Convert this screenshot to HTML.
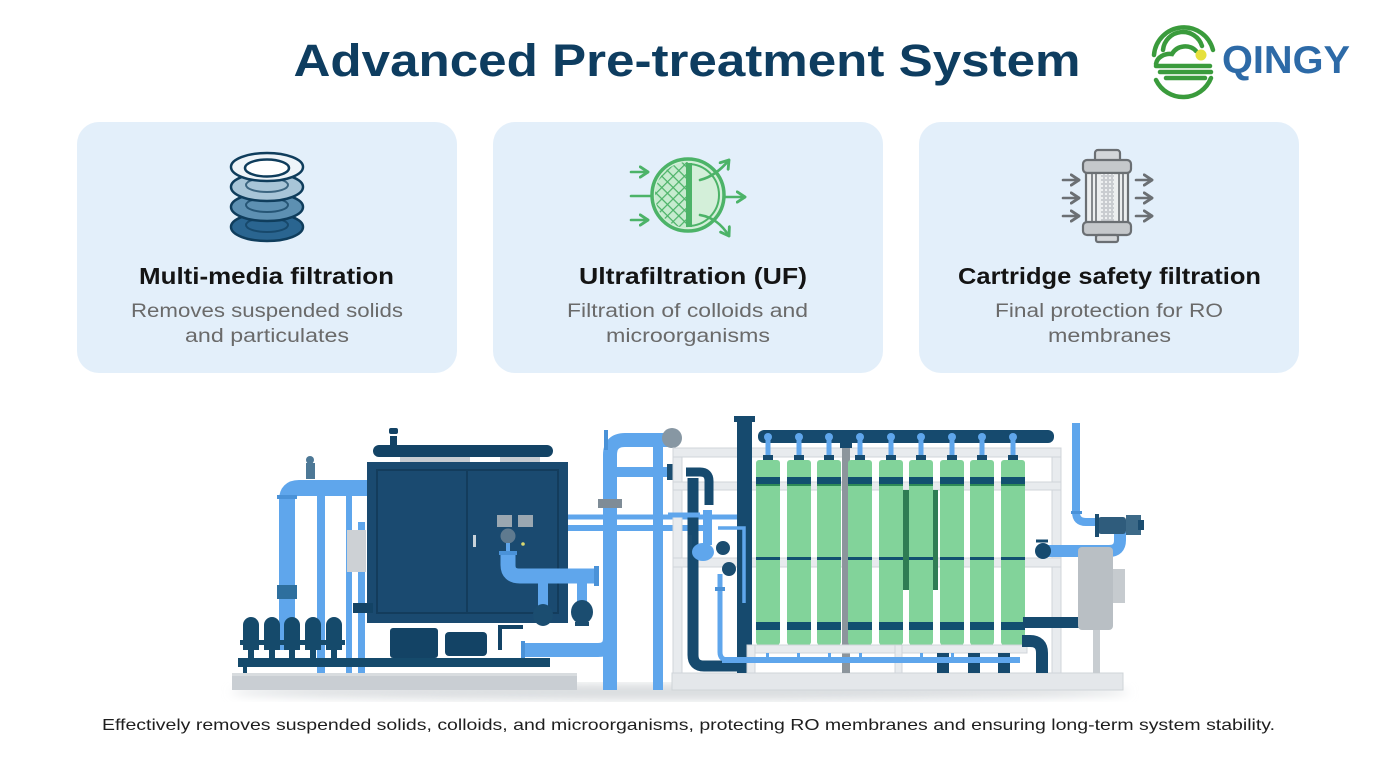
<!DOCTYPE html>
<html><head><meta charset="utf-8"><style>
html,body{margin:0;padding:0;background:#fff;}
svg{display:block;}
text{font-family:"Liberation Sans",sans-serif;}
</style></head><body>
<svg width="1376" height="768" viewBox="0 0 1376 768" xmlns="http://www.w3.org/2000/svg">
<defs>
<marker id="ag" viewBox="0 0 10 10" refX="7" refY="5" markerWidth="5" markerHeight="5" orient="auto"><path d="M1 1 L7 5 L1 9" fill="none" stroke="#4cb368" stroke-width="2.2" stroke-linecap="round" stroke-linejoin="round"/></marker>
<marker id="agr" viewBox="0 0 10 10" refX="7" refY="5" markerWidth="5" markerHeight="5" orient="auto"><path d="M1 1 L7 5 L1 9" fill="none" stroke="#6b6f73" stroke-width="2.2" stroke-linecap="round" stroke-linejoin="round"/></marker>
<pattern id="mesh" width="8" height="8" patternUnits="userSpaceOnUse" patternTransform="rotate(45)"><rect width="8" height="8" fill="#c6ebcf"/><path d="M0 0H8M0 0V8" stroke="#4cb368" stroke-width="2.4"/></pattern>
<pattern id="cmesh" width="4" height="4" patternUnits="userSpaceOnUse"><rect width="4" height="4" fill="#c9ccd0"/><circle cx="2" cy="2" r="1.1" fill="#f3f4f5"/></pattern>
<clipPath id="lh"><path d="M688 162 A33 33 0 0 0 688 228 Z"/></clipPath>
<filter id="blur"><feGaussianBlur stdDeviation="5"/></filter>
</defs>
<rect width="1376" height="768" fill="#fff"/>

<!-- Title -->
<text x="687" y="76" font-size="45" font-weight="700" fill="#0e3d60" text-anchor="middle" textLength="787" lengthAdjust="spacingAndGlyphs">Advanced Pre-treatment System</text>

<!-- Logo -->
<g fill="none" stroke="#3a9b3c" stroke-width="4.5" stroke-linecap="round">
<path d="M1154 55 A30 30 0 0 1 1213 50"/>
<path d="M1163 50 A20 20 0 0 1 1202 46"/>
<path d="M1156 64 C1157 57 1165 53 1172 54 C1177 45 1190 44 1196 51"/>
<path d="M1156 66 H1210"/>
<path d="M1160 72 H1211"/>
<path d="M1166 78 H1205"/>
<path d="M1156 80 A30 30 0 0 0 1211 78"/>
</g>
<circle cx="1201" cy="55" r="5.5" fill="#e6e03c"/>
<text x="1222" y="73" font-size="39" font-weight="700" fill="#2d6aa7" textLength="128" lengthAdjust="spacingAndGlyphs">QINGY</text>

<!-- Cards -->
<rect x="77" y="122" width="380" height="251" rx="22" fill="#e3effa"/>
<rect x="493" y="122" width="390" height="251" rx="22" fill="#e3effa"/>
<rect x="919" y="122" width="380" height="251" rx="22" fill="#e3effa"/>

<!-- Card 1 icon -->
<g stroke="#0f3d5c" stroke-width="2.5">
<ellipse cx="267" cy="227" rx="36" ry="14" fill="#2a6590"/>
<ellipse cx="267" cy="225" rx="21" ry="7" fill="none" stroke-width="2" opacity="0.7"/>
<ellipse cx="267" cy="207" rx="36" ry="14" fill="#5d90b2"/>
<ellipse cx="267" cy="205" rx="21" ry="7" fill="none" stroke-width="2" opacity="0.7"/>
<ellipse cx="267" cy="187" rx="36" ry="14" fill="#a8c5d8"/>
<ellipse cx="267" cy="185" rx="21" ry="7" fill="none" stroke-width="2" opacity="0.7"/>
<ellipse cx="267" cy="167" rx="36" ry="14" fill="#eef4f9"/>
<ellipse cx="267" cy="168" rx="22" ry="8.5" fill="#fff"/>
</g>

<!-- Card 2 icon -->
<circle cx="688" cy="195" r="36" fill="#d3efd9" stroke="#4cb368" stroke-width="3.5"/>
<circle cx="688" cy="195" r="31" fill="none" stroke="#4cb368" stroke-width="2"/>
<rect x="650" y="160" width="38" height="70" fill="url(#mesh)" clip-path="url(#lh)"/>
<rect x="686" y="163" width="6" height="64" fill="#4cb368"/>
<g fill="none" stroke="#4cb368" stroke-width="2.6" stroke-linecap="round">
<path d="M631 172 H648" marker-end="url(#ag)"/>
<path d="M631 196 H652"/>
<path d="M631 220 H648" marker-end="url(#ag)"/>
<path d="M700 180 Q716 176 729 160" marker-end="url(#ag)"/>
<path d="M724 197 H745" marker-end="url(#ag)"/>
<path d="M700 215 Q718 218 729 236" marker-end="url(#ag)"/>
</g>

<!-- Card 3 icon -->
<g stroke="#6b6f73" stroke-width="2.2">
<rect x="1095" y="150" width="25" height="12" rx="3" fill="#d3d6d9"/>
<rect x="1083" y="160" width="48" height="13" rx="4" fill="#c5c8cb"/>
<rect x="1086" y="173" width="42" height="50" fill="#eceeef"/>
<rect x="1101" y="174" width="13" height="48" fill="url(#cmesh)" stroke="none"/>
<path d="M1092 174 V222 M1096 174 V222 M1119 174 V222 M1123 174 V222" stroke-width="1.6"/>
<rect x="1083" y="222" width="48" height="13" rx="4" fill="#c5c8cb"/>
<rect x="1096" y="235" width="22" height="7" rx="2" fill="#d3d6d9"/>
</g>
<g fill="none" stroke="#6b6f73" stroke-width="2.6" stroke-linecap="round">
<path d="M1063 180 H1079" marker-end="url(#agr)"/>
<path d="M1063 198 H1079" marker-end="url(#agr)"/>
<path d="M1063 216 H1079" marker-end="url(#agr)"/>
<path d="M1136 180 H1152" marker-end="url(#agr)"/>
<path d="M1136 198 H1152" marker-end="url(#agr)"/>
<path d="M1136 216 H1152" marker-end="url(#agr)"/>
</g>

<!-- Card texts -->
<g font-size="23" font-weight="700" fill="#141414">
<text x="139" y="284" textLength="255" lengthAdjust="spacingAndGlyphs">Multi-media filtration</text>
<text x="579" y="284" textLength="228" lengthAdjust="spacingAndGlyphs">Ultrafiltration (UF)</text>
<text x="958" y="284" textLength="303" lengthAdjust="spacingAndGlyphs">Cartridge safety filtration</text>
</g>
<g font-size="19" fill="#6a6a6a">
<text x="131" y="317" textLength="272" lengthAdjust="spacingAndGlyphs">Removes suspended solids</text>
<text x="185" y="342" textLength="164" lengthAdjust="spacingAndGlyphs">and particulates</text>
<text x="567" y="317" textLength="241" lengthAdjust="spacingAndGlyphs">Filtration of colloids and</text>
<text x="606" y="342" textLength="164" lengthAdjust="spacingAndGlyphs">microorganisms</text>
<text x="995" y="317" textLength="228" lengthAdjust="spacingAndGlyphs">Final protection for RO</text>
<text x="1048" y="342" textLength="123" lengthAdjust="spacingAndGlyphs">membranes</text>
</g>

<!-- Machine shadow -->
<ellipse cx="680" cy="692" rx="450" ry="8" fill="#d8dbde" filter="url(#blur)"/>

<!-- ===== LEFT SECTION ===== -->
<rect x="232" y="673" width="345" height="17" fill="#c9ced3"/>
<rect x="232" y="673" width="345" height="3" fill="#d8dcdf"/>
<rect x="317" y="490" width="8" height="183" fill="#5fa6ec"/>
<rect x="346" y="490" width="6" height="183" fill="#5fa6ec"/>
<rect x="358" y="522" width="7" height="151" fill="#5fa6ec"/>
<path d="M287 650 V500 Q287 488 299 488 H368" fill="none" stroke="#5fa6ec" stroke-width="16"/>
<rect x="277" y="495" width="20" height="4" fill="#4a92d8"/>
<rect x="277" y="585" width="20" height="14" fill="#2e6f9e"/>
<rect x="306" y="463" width="9" height="16" fill="#4d7896"/>
<circle cx="310" cy="460" r="4" fill="#4d7896"/>
<rect x="347" y="530" width="19" height="42" fill="#cdd1d5"/>
<rect x="367" y="462" width="201" height="161" fill="#1a4a70"/>
<rect x="377" y="470" width="181" height="143" fill="none" stroke="#133c5c" stroke-width="2"/>
<line x1="467" y1="471" x2="467" y2="612" stroke="#133c5c" stroke-width="2"/>
<rect x="473" y="535" width="3" height="12" fill="#c9d3da"/>
<rect x="373" y="445" width="180" height="12" rx="6" fill="#134365"/>
<rect x="390" y="436" width="7" height="10" fill="#134365"/>
<rect x="389" y="428" width="9" height="6" rx="2" fill="#134365"/>
<rect x="400" y="457" width="70" height="5" fill="#c7ccd1"/>
<rect x="500" y="457" width="40" height="5" fill="#c7ccd1"/>
<rect x="497" y="515" width="15" height="12" fill="#9aa7b1"/>
<rect x="518" y="515" width="15" height="12" fill="#9aa7b1"/>
<circle cx="508" cy="536" r="7.5" fill="#5f7a8f"/>
<circle cx="523" cy="544" r="1.8" fill="#d9d870"/>
<rect x="506" y="543" width="4" height="8" fill="#5fa6ec"/>
<path d="M508 552 V565 Q508 576 520 576 H598" fill="none" stroke="#5fa6ec" stroke-width="15"/>
<rect x="499" y="551" width="18" height="4" fill="#4a92d8"/>
<rect x="594" y="566" width="5" height="20" fill="#4a92d8"/>
<rect x="538" y="583" width="10" height="40" fill="#5fa6ec"/>
<ellipse cx="543" cy="615" rx="10" ry="11" fill="#1b4d70"/>
<rect x="577" y="583" width="10" height="20" fill="#5fa6ec"/>
<ellipse cx="582" cy="612" rx="11" ry="12" fill="#1b4d70"/>
<rect x="575" y="622" width="14" height="4" fill="#1b4d70"/>
<rect x="390" y="628" width="48" height="30" rx="3" fill="#134365"/>
<rect x="445" y="632" width="42" height="24" rx="4" fill="#134365"/>
<rect x="353" y="603" width="20" height="10" fill="#134365"/>
<rect x="498" y="625" width="4" height="25" fill="#134365"/>
<rect x="498" y="625" width="25" height="4" fill="#134365"/>
<path d="M523 650 H598 Q610 650 610 638" fill="none" stroke="#5fa6ec" stroke-width="14"/>
<rect x="521" y="641" width="4" height="18" fill="#4a92d8"/>
<rect x="238" y="658" width="312" height="9" fill="#154a6b"/>
<rect x="243" y="667" width="4" height="6" fill="#154a6b"/>
<g fill="#154a6b">
<path d="M243 650 V625 A8 8 0 0 1 259 625 V650 Z"/><rect x="240" y="640" width="22" height="5"/><rect x="248" y="650" width="6" height="8"/>
<path d="M264 650 V625 A8 8 0 0 1 280 625 V650 Z"/><rect x="261" y="640" width="22" height="5"/><rect x="269" y="650" width="6" height="8"/>
<path d="M284 650 V625 A8 8 0 0 1 300 625 V650 Z"/><rect x="281" y="640" width="22" height="5"/><rect x="289" y="650" width="6" height="8"/>
<path d="M305 650 V625 A8 8 0 0 1 321 625 V650 Z"/><rect x="302" y="640" width="22" height="5"/><rect x="310" y="650" width="6" height="8"/>
<path d="M326 650 V625 A8 8 0 0 1 342 625 V650 Z"/><rect x="323" y="640" width="22" height="5"/><rect x="331" y="650" width="6" height="8"/>
</g>
<rect x="653" y="447" width="10" height="243" fill="#5fa6ec"/>
<path d="M610 690 V455 Q610 440 625 440 H668" fill="none" stroke="#5fa6ec" stroke-width="14"/>
<rect x="598" y="499" width="24" height="9" fill="#7f8c97"/>
<rect x="604" y="430" width="4" height="20" fill="#4a92d8"/>
<circle cx="672" cy="438" r="10" fill="#8797a3"/>
<path d="M610 472 H670" stroke="#5fa6ec" stroke-width="10"/>
<rect x="667" y="464" width="6" height="16" fill="#1b4d70"/>
<path d="M568 517 H742" stroke="#5fa6ec" stroke-width="5"/>
<path d="M568 528 H705" stroke="#5fa6ec" stroke-width="6"/>

<!-- ===== RIGHT SECTION ===== -->
<rect x="672" y="673" width="451" height="17" fill="#e4e7ea" stroke="#cfd4d8"/>
<g fill="#e8ebee" stroke="#d0d5da">
<rect x="673" y="448" width="9" height="225"/>
<rect x="1052" y="448" width="9" height="225"/>
<rect x="673" y="448" width="388" height="9"/>
<rect x="673" y="482" width="388" height="8"/>
<rect x="673" y="558" width="388" height="9"/>
</g>
<rect x="842" y="448" width="8" height="225" fill="#8c959c"/>
<rect x="900" y="490" width="38" height="100" fill="#2f7d54"/>
<rect x="737" y="419" width="15" height="254" fill="#164a6e"/>
<rect x="734" y="416" width="21" height="6" fill="#164a6e"/>
<path d="M693 478 V655 Q693 666 704 666 H740" fill="none" stroke="#164a6e" stroke-width="11"/>
<path d="M686 472 H700 Q709 472 709 481 V505" fill="none" stroke="#164a6e" stroke-width="9"/>
<path d="M668 515 H700" stroke="#5fa6ec" stroke-width="5"/>
<rect x="703" y="510" width="9" height="35" fill="#5fa6ec"/>
<ellipse cx="703" cy="552" rx="11" ry="9" fill="#5fa6ec"/>
<circle cx="723" cy="548" r="7" fill="#1b4d70"/>
<circle cx="729" cy="569" r="7" fill="#1b4d70"/>
<rect x="688" y="535" width="4" height="15" fill="#1b4d70"/>
<path d="M720 574 V652 Q720 660 728 660 H745" fill="none" stroke="#5fa6ec" stroke-width="5"/>
<rect x="715" y="587" width="10" height="4" fill="#4a92d8"/>
<path d="M718 528 H744 V603" fill="none" stroke="#5fa6ec" stroke-width="3.5"/>
<rect x="758" y="430" width="296" height="13" rx="6" fill="#164a6e"/>
<rect x="840" y="443" width="12" height="5" fill="#164a6e"/>
<g>
<g transform="translate(768 0)"><rect x="-2.5" y="436" width="5" height="20" fill="#5fa6ec"/><circle cx="0" cy="437" r="4" fill="#5fa6ec"/><rect x="-5" y="455" width="10" height="6" fill="#164a6e"/><rect x="-12" y="460" width="24" height="185" rx="3" fill="#82d39a"/><rect x="-12" y="477" width="24" height="7" fill="#125070"/><rect x="-12" y="484" width="24" height="2" fill="#2e8b57"/><rect x="-12" y="557" width="24" height="3" fill="#125070"/><rect x="-12" y="622" width="24" height="8" fill="#125070"/></g>
<g transform="translate(799 0)"><rect x="-2.5" y="436" width="5" height="20" fill="#5fa6ec"/><circle cx="0" cy="437" r="4" fill="#5fa6ec"/><rect x="-5" y="455" width="10" height="6" fill="#164a6e"/><rect x="-12" y="460" width="24" height="185" rx="3" fill="#82d39a"/><rect x="-12" y="477" width="24" height="7" fill="#125070"/><rect x="-12" y="484" width="24" height="2" fill="#2e8b57"/><rect x="-12" y="557" width="24" height="3" fill="#125070"/><rect x="-12" y="622" width="24" height="8" fill="#125070"/></g>
<g transform="translate(829 0)"><rect x="-2.5" y="436" width="5" height="20" fill="#5fa6ec"/><circle cx="0" cy="437" r="4" fill="#5fa6ec"/><rect x="-5" y="455" width="10" height="6" fill="#164a6e"/><rect x="-12" y="460" width="24" height="185" rx="3" fill="#82d39a"/><rect x="-12" y="477" width="24" height="7" fill="#125070"/><rect x="-12" y="484" width="24" height="2" fill="#2e8b57"/><rect x="-12" y="557" width="24" height="3" fill="#125070"/><rect x="-12" y="622" width="24" height="8" fill="#125070"/></g>
<g transform="translate(860 0)"><rect x="-2.5" y="436" width="5" height="20" fill="#5fa6ec"/><circle cx="0" cy="437" r="4" fill="#5fa6ec"/><rect x="-5" y="455" width="10" height="6" fill="#164a6e"/><rect x="-12" y="460" width="24" height="185" rx="3" fill="#82d39a"/><rect x="-12" y="477" width="24" height="7" fill="#125070"/><rect x="-12" y="484" width="24" height="2" fill="#2e8b57"/><rect x="-12" y="557" width="24" height="3" fill="#125070"/><rect x="-12" y="622" width="24" height="8" fill="#125070"/></g>
<g transform="translate(891 0)"><rect x="-2.5" y="436" width="5" height="20" fill="#5fa6ec"/><circle cx="0" cy="437" r="4" fill="#5fa6ec"/><rect x="-5" y="455" width="10" height="6" fill="#164a6e"/><rect x="-12" y="460" width="24" height="185" rx="3" fill="#82d39a"/><rect x="-12" y="477" width="24" height="7" fill="#125070"/><rect x="-12" y="484" width="24" height="2" fill="#2e8b57"/><rect x="-12" y="557" width="24" height="3" fill="#125070"/><rect x="-12" y="622" width="24" height="8" fill="#125070"/></g>
<g transform="translate(921 0)"><rect x="-2.5" y="436" width="5" height="20" fill="#5fa6ec"/><circle cx="0" cy="437" r="4" fill="#5fa6ec"/><rect x="-5" y="455" width="10" height="6" fill="#164a6e"/><rect x="-12" y="460" width="24" height="185" rx="3" fill="#82d39a"/><rect x="-12" y="477" width="24" height="7" fill="#125070"/><rect x="-12" y="484" width="24" height="2" fill="#2e8b57"/><rect x="-12" y="557" width="24" height="3" fill="#125070"/><rect x="-12" y="622" width="24" height="8" fill="#125070"/></g>
<g transform="translate(952 0)"><rect x="-2.5" y="436" width="5" height="20" fill="#5fa6ec"/><circle cx="0" cy="437" r="4" fill="#5fa6ec"/><rect x="-5" y="455" width="10" height="6" fill="#164a6e"/><rect x="-12" y="460" width="24" height="185" rx="3" fill="#82d39a"/><rect x="-12" y="477" width="24" height="7" fill="#125070"/><rect x="-12" y="484" width="24" height="2" fill="#2e8b57"/><rect x="-12" y="557" width="24" height="3" fill="#125070"/><rect x="-12" y="622" width="24" height="8" fill="#125070"/></g>
<g transform="translate(982 0)"><rect x="-2.5" y="436" width="5" height="20" fill="#5fa6ec"/><circle cx="0" cy="437" r="4" fill="#5fa6ec"/><rect x="-5" y="455" width="10" height="6" fill="#164a6e"/><rect x="-12" y="460" width="24" height="185" rx="3" fill="#82d39a"/><rect x="-12" y="477" width="24" height="7" fill="#125070"/><rect x="-12" y="484" width="24" height="2" fill="#2e8b57"/><rect x="-12" y="557" width="24" height="3" fill="#125070"/><rect x="-12" y="622" width="24" height="8" fill="#125070"/></g>
<g transform="translate(1013 0)"><rect x="-2.5" y="436" width="5" height="20" fill="#5fa6ec"/><circle cx="0" cy="437" r="4" fill="#5fa6ec"/><rect x="-5" y="455" width="10" height="6" fill="#164a6e"/><rect x="-12" y="460" width="24" height="185" rx="3" fill="#82d39a"/><rect x="-12" y="477" width="24" height="7" fill="#125070"/><rect x="-12" y="484" width="24" height="2" fill="#2e8b57"/><rect x="-12" y="557" width="24" height="3" fill="#125070"/><rect x="-12" y="622" width="24" height="8" fill="#125070"/></g>
</g>
<rect x="747" y="645" width="280" height="8" fill="#e8ebee" stroke="#d0d5da"/>
<rect x="747" y="645" width="8" height="28" fill="#e8ebee" stroke="#d0d5da"/>
<rect x="895" y="645" width="7" height="28" fill="#e8ebee" stroke="#d0d5da"/>
<g fill="#164a6e">
<rect x="937" y="653" width="12" height="20"/><rect x="968" y="653" width="12" height="20"/><rect x="998" y="653" width="12" height="20"/>
</g>
<path d="M722 660 H1020" stroke="#5fa6ec" stroke-width="6"/>
<g fill="#5fa6ec">
<rect x="766" y="653" width="3" height="8"/><rect x="797" y="653" width="3" height="8"/><rect x="828" y="653" width="3" height="8"/><rect x="859" y="653" width="3" height="8"/><rect x="920" y="653" width="3" height="8"/><rect x="951" y="653" width="3" height="8"/>
</g>
<rect x="1023" y="617" width="57" height="11" fill="#164a6e"/>
<path d="M1022 641 H1030 Q1042 641 1042 653 V673" fill="none" stroke="#164a6e" stroke-width="12"/>
<path d="M1076 423 V512 Q1076 522 1086 522 H1100" fill="none" stroke="#5fa6ec" stroke-width="8"/>
<rect x="1071" y="511" width="11" height="3" fill="#4a92d8"/>
<path d="M1120 532 V540 Q1120 551 1109 551 H1045" fill="none" stroke="#5fa6ec" stroke-width="12"/>
<rect x="1078" y="547" width="35" height="83" rx="4" fill="#b9bfc4"/>
<rect x="1113" y="569" width="12" height="34" fill="#c6cbcf"/>
<rect x="1093" y="630" width="7" height="43" fill="#c8cdd1"/>
<rect x="1098" y="517" width="28" height="17" rx="3" fill="#2f5c7c"/>
<rect x="1095" y="514" width="4" height="23" fill="#1b4d70"/>
<rect x="1126" y="515" width="15" height="20" fill="#3d6a88"/>
<rect x="1138" y="520" width="6" height="10" fill="#1b4d70"/>
<circle cx="1043" cy="551" r="8" fill="#164a6e"/>
<path d="M1036 541 H1048" stroke="#164a6e" stroke-width="3"/>

<!-- Bottom caption -->
<text x="102" y="730" font-size="16" fill="#1e1e1e" textLength="1173" lengthAdjust="spacingAndGlyphs">Effectively removes suspended solids, colloids, and microorganisms, protecting RO membranes and ensuring long-term system stability.</text>
</svg>
</body></html>
